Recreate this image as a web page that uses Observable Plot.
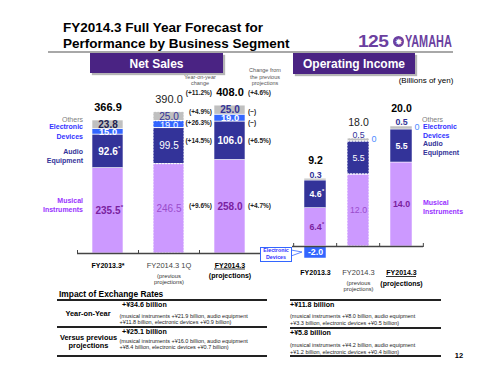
<!DOCTYPE html>
<html><head><meta charset="utf-8">
<script src="https://cdn.jsdelivr.net/npm/d3@7"></script>
<script src="https://cdn.jsdelivr.net/npm/@observablehq/plot@0.6"></script>
<style>
html,body{margin:0;padding:0;background:#fff;}
#page{position:relative;width:500px;height:375px;overflow:hidden;font-family:"Liberation Sans",Arial,Helvetica,sans-serif;background:#fff;}
.t{position:absolute;white-space:nowrap;line-height:1;}
.box{position:absolute;}
#page svg{position:absolute;left:0;top:0;}
</style></head>
<body><div id="page"></div>
<script>
// ---------------- DATA ----------------
const segs = ["Musical Instruments", "Audio Equipment", "Electronic Devices", "Others"];

const nsCats = ["FY2013.3", "FY2014.3 1Q", "FY2014.3"];
const nsCatLabels = ["FY2013.3*", "FY2014.3 1Q", "FY2014.3"];
const nsCatNotes = ["", "(previous\nprojections)", "(projections)"];
const nsMusical = [235.5, 246.5, 258.0];
const nsAudio = [92.6, 99.5, 106.0];
const nsElectronic = [15.0, 19.0, 19.0];
const nsOthers = [23.8, 25.0, 25.0];
const nsTotals = [366.9, 390.0, 408.0];
const nsStarred = [[true, false, false], [true, false, false], [false, false, false], [false, false, false]];
// order: total, musical, audio, electronic, others
const nsYoY = ["(+11.2%)", "(+9.6%)", "(+14.5%)", "(+26.3%)", "(+4.9%)"];
const nsVsPrev = ["(+4.6%)", "(+4.7%)", "(+6.5%)", "(\u2212)", "(\u2212)"];

const oiCats = ["FY2013.3", "FY2014.3 prev", "FY2014.3 proj"];
const oiCatLabels = ["FY2013.3", "FY2014.3", "FY2014.3"];
const oiCatNotes = ["", "(previous\nprojections)", "(projections)"];
const oiMusical = [6.4, 12.0, 14.0];
const oiAudio = [4.6, 5.5, 5.5];
const oiElectronic = [-2.0, 0, 0];
const oiOthers = [0.3, 0.5, 0.5];
const oiTotals = [9.2, 18.0, 20.0];
const oiStarred = [[true, false, false], [true, false, false], [false, false, false], [false, false, false]];

const fxHeads = ["+\u00a534.6 billion", "+\u00a525.1 billion", "+\u00a511.8 billion", "+\u00a55.8 billion"];
const fxDetails = [
  ["(musical instruments +\u00a521.9 billion, audio equipment", "+\u00a511.8 billion, electronic devices +\u00a50.9 billion)"],
  ["(musical instruments +\u00a516.0 billion, audio equipment", "+\u00a58.4 billion, electronic devices +\u00a50.7 billion)"],
  ["(musical instruments +\u00a58.0 billion, audio equipment", "+\u00a53.3 billion, electronic devices +\u00a50.5 billion)"],
  ["(musical instruments +\u00a54.2 billion, audio equipment", "+\u00a51.2 billion, electronic devices +\u00a50.4 billion)"]
];

// ---------------- STYLE ----------------
const FONT = '"Liberation Sans", Arial, Helvetica, sans-serif';
const segColor = {"Musical Instruments": "#cc99ff", "Audio Equipment": "#333399", "Electronic Devices": "#3366ff", "Others": "#c0c0c0"};
const PREV = 1, PROJ = 2;
const page = document.getElementById("page");

function T(x, y, txt, o = {}) {
  const d = document.createElement("div");
  d.className = "t";
  d.textContent = txt;
  Object.assign(d.style, {left: x + "px", top: y + "px", fontSize: (o.size || 7) + "px",
    fontWeight: o.bold ? "bold" : "normal", color: o.color || "#000"});
  const tx = o.anchor === "middle" ? "-50%" : o.anchor === "end" ? "-100%" : "0";
  d.style.transform = `translate(${tx},-50%)`;
  if (o.css) Object.assign(d.style, o.css);
  page.appendChild(d);
  return d;
}
function B(x, y, w, h, css) {
  const d = document.createElement("div");
  d.className = "box";
  Object.assign(d.style, {left: x + "px", top: y + "px", width: w + "px", height: h + "px"}, css);
  page.appendChild(d);
  return d;
}

function build(cats, series, starred) {
  const out = [];
  cats.forEach((c, i) => series.forEach((arr, j) =>
    out.push({cat: c, i, seg: segs[j], value: arr[i], star: starred[j][i]})));
  return out;
}
const fmt = d => d.value.toFixed(1);
// approximate half-width of a bold numeric label (for placing the small asterisk)
const halfW = (s, size) => [...s].reduce((w, ch) => w + (ch === "." ? 0.278 : 0.556), 0) * size / 2;

// ---------------- STATIC TEXT ----------------
T(63, 28, "FY2014.3 Full Year Forecast for", {size: 13.5, bold: true});
T(63, 44, "Performance by Business Segment", {size: 13.5, bold: true});
B(48, 51, 405, 1.5, {background: "#a8a8a8"});
// logo
T(358, 42, "125", {size: 16, bold: true, color: "#6b3fa0", css: {transform: "translate(0,-50%) scaleX(1.2)", transformOrigin: "0 50%", letterSpacing: "-0.5px"}});
B(393, 36, 11, 11, {background: "#6b3fa0", borderRadius: "50%"});
T(398.5, 41.5, "\u2738", {size: 9, color: "#fff", anchor: "middle"});
T(405, 42, "YAMAHA", {size: 16, bold: true, color: "#6b3fa0", css: {transform: "translate(0,-50%) scaleX(0.68)", transformOrigin: "0 50%"}});

// section headers
B(90, 53, 133, 20, {background: "#4a2383", boxShadow: "2px 2px 1px #b5b5b5"});
T(156.5, 63.5, "Net Sales", {size: 12, bold: true, color: "#fff", anchor: "middle"});
B(293, 53, 122, 21, {background: "#4a2383", boxShadow: "2px 2px 1px #b5b5b5"});
T(354, 64, "Operating Income", {size: 12, bold: true, color: "#fff", anchor: "middle"});
T(426, 81, "(Billions of yen)", {size: 8, anchor: "middle"});

// column headers
T(200, 78, "Year-on-year", {size: 5.5, color: "#555", anchor: "middle"});
T(200, 84, "change", {size: 5.5, color: "#555", anchor: "middle"});
T(265, 71, "Change from", {size: 5.5, color: "#555", anchor: "middle"});
T(265, 77.5, "the previous", {size: 5.5, color: "#555", anchor: "middle"});
T(265, 84, "projections", {size: 5.5, color: "#555", anchor: "middle"});

// segment labels, net sales (left)
T(83, 119, "Others", {size: 7, color: "#808080", anchor: "end"});
T(83, 126, "Electronic", {size: 7, bold: true, color: "#3333ff", anchor: "end"});
T(83, 136, "Devices", {size: 7, bold: true, color: "#3333ff", anchor: "end"});
T(83, 151, "Audio", {size: 7, bold: true, color: "#333399", anchor: "end"});
T(83, 159.5, "Equipment", {size: 7, bold: true, color: "#333399", anchor: "end"});
T(83, 200, "Musical", {size: 7, bold: true, color: "#9933ff", anchor: "end"});
T(83, 209, "Instruments", {size: 7, bold: true, color: "#9933ff", anchor: "end"});
// segment labels, operating income (right)
T(422, 119, "Others", {size: 7, color: "#808080"});
T(423, 125.7, "Electronic", {size: 7, bold: true, color: "#3333ff"});
T(423, 134.7, "Devices", {size: 7, bold: true, color: "#3333ff"});
T(423, 143.3, "Audio", {size: 7, bold: true, color: "#333399"});
T(423, 152.3, "Equipment", {size: 7, bold: true, color: "#333399"});
T(423, 201.7, "Musical", {size: 7, bold: true, color: "#9933ff"});
T(423, 211, "Instruments", {size: 7, bold: true, color: "#9933ff"});

// exchange-rate table
T(59, 293.5, "Impact of Exchange Rates", {size: 8.4, bold: true});
B(57, 299, 210, 2, {background: "#222"});
B(57, 326, 210, 1.5, {background: "#222"});
B(57, 354.5, 210, 2, {background: "#222"});
B(290, 299, 151, 2, {background: "#222"});
B(290, 327, 151, 1.5, {background: "#222"});
B(290, 354.5, 151, 2, {background: "#222"});
T(88, 314.3, "Year-on-Year", {size: 7.4, bold: true, anchor: "middle"});
T(88.5, 337.7, "Versus previous", {size: 7.4, bold: true, anchor: "middle"});
T(88.5, 345.7, "projections", {size: 7.4, bold: true, anchor: "middle"});
const fxPos = [[122, 305.7, 119.5, 316.7], [122, 333.3, 119.5, 341.7], [290, 305.7, 290, 317.3], [290, 333.7, 290, 346.3]];
fxHeads.forEach((h, k) => {
  const [hx, hy, dx0, dy0] = fxPos[k];
  T(hx, hy, h, {size: 7.1, bold: true});
  T(dx0, dy0, fxDetails[k][0], {size: 5.5, color: "#222"});
  T(dx0, dy0 + 6.3, fxDetails[k][1], {size: 5.5, color: "#222"});
});
T(459, 356, "12", {size: 7.5, bold: true, anchor: "middle"});

// ---------------- NET SALES CHART ----------------
const nsData = build(nsCats, [nsMusical, nsAudio, nsElectronic, nsOthers], nsStarred);
const nsTot = nsCats.map((c, i) => ({cat: c, i, total: nsTotals[i]}));
const nsCatData = nsCats.map((c, i) => ({cat: c, i, label: nsCatLabels[i], note: nsCatNotes[i]}));
const nsY0 = 253, nsK = 0.3625, nsYmax = 500;
const nsL = 77, nsR = 260, nsStep = (nsR - nsL) / nsCats.length;
const nsFill = d => d.seg === "Musical Instruments" ? (d.i === PREV ? "#9a4ccc" : "#7a1fa0")
  : d.seg === "Others" ? (d.i === 0 ? "#222250" : "#333399") : "#ffffff";
const NS_FS = 10;
const nsSize = d => d.seg === "Electronic Devices" ? 9.3 : NS_FS;

const last = nsCats.length - 1;
let acc = 0;
const mids = [nsMusical, nsAudio, nsElectronic, nsOthers].map(a => { const m = acc + a[last] / 2; acc += a[last]; return m; });
const changeRows = [
  {y: nsTotals[last], dy: -13, yoy: nsYoY[0], prev: nsVsPrev[0]},
  {y: mids[0], dy: -1, yoy: nsYoY[1], prev: nsVsPrev[1]},
  {y: mids[1], dy: 0.5, yoy: nsYoY[2], prev: nsVsPrev[2]},
  {y: mids[2], dy: 4.5, yoy: nsYoY[3], prev: nsVsPrev[3]},
  {y: mids[3], dy: 1.5, yoy: nsYoY[4], prev: nsVsPrev[4]}
];

const starMarks = (data, size, fill) => data.filter(d => d.star).map(t =>
  Plot.text(data, Plot.stackY({x: "cat", y: "value", text: d => d === t ? "*" : null,
    dx: halfW(fmt(t), size) + 0.3, dy: -size * 0.38, textAnchor: "start", fontSize: size * 0.62,
    fontWeight: "bold", fill})));

const nsPlot = Plot.plot({
  width: 500, height: 375,
  marginLeft: nsL, marginRight: 500 - nsR, marginBottom: 375 - nsY0, marginTop: nsY0 - nsK * nsYmax,
  x: {domain: nsCats, paddingInner: 0.5, paddingOuter: 0.25, axis: null},
  y: {domain: [0, nsYmax], axis: null},
  color: {type: "identity"},
  style: {background: "transparent", overflow: "visible", fontFamily: FONT},
  marks: [
    Plot.barY(nsData, {x: "cat", y: "value", fill: d => segColor[d.seg], stroke: "#fff", strokeWidth: 0.6}),
    Plot.barY(nsData, {filter: d => d.i === PREV, x: "cat", y: "value", fill: "none", stroke: "#ffffff", strokeWidth: 1, strokeDasharray: "1.5 1.5", strokeOpacity: 0.9}),
    Plot.ruleY([0], {stroke: "#444", strokeWidth: 1.3}),
    Plot.ruleX(nsCats, {x: d => d, dx: -nsStep / 2, y1: 0, y2: 0, insetTop: -3, insetBottom: -1, stroke: "#444"}),
    Plot.ruleX([nsCats[last]], {x: d => d, dx: nsStep / 2, y1: 0, y2: 0, insetTop: -3, insetBottom: -1, stroke: "#444"}),
    Plot.text(nsData, Plot.stackY({x: "cat", y: "value", text: d => d.i !== PREV && d.seg !== "Electronic Devices" ? fmt(d) : null, fill: nsFill, fontSize: NS_FS, fontWeight: "bold"})),
    Plot.text(nsData, Plot.stackY({x: "cat", y: "value", text: d => d.i !== PREV && d.seg === "Electronic Devices" ? fmt(d) : null, fill: nsFill, fontSize: 9.3, fontWeight: "bold"})),
    Plot.text(nsData, Plot.stackY({x: "cat", y: "value", text: d => d.i === PREV && d.seg !== "Electronic Devices" ? fmt(d) : null, fill: nsFill, fontSize: NS_FS, fontWeight: "normal"})),
    Plot.text(nsData, Plot.stackY({x: "cat", y: "value", text: d => d.i === PREV && d.seg === "Electronic Devices" ? fmt(d) : null, fill: nsFill, fontSize: 9.3, fontWeight: "normal"})),
    ...starMarks(nsData, NS_FS, "#ffffff").slice(0, 0),
    ...nsData.filter(d => d.star).map(t =>
      Plot.text(nsData, Plot.stackY({x: "cat", y: "value", text: d => d === t ? "*" : null,
        dx: halfW(fmt(t), NS_FS) + 0.3, dy: -NS_FS * 0.38, textAnchor: "start", fontSize: 6.2,
        fontWeight: "bold", fill: nsFill(t)}))),
    Plot.text(nsTot, {filter: d => d.i !== PREV, x: "cat", y: "total", text: d => d.total.toFixed(1), dy: -13, fontSize: 11, fontWeight: "bold", fill: "#000"}),
    Plot.text(nsTot, {filter: d => d.i === PREV, x: "cat", y: "total", text: d => d.total.toFixed(1), dy: -13, fontSize: 11, fill: "#222"}),
    Plot.text(nsCatData, {filter: d => d.i !== PREV, x: "cat", y: 0, dy: 12, text: "label", fontSize: 7, fontWeight: "bold", fill: "#000"}),
    Plot.text(nsCatData, {filter: d => d.i === PREV, x: "cat", y: 0, dy: 12, text: "label", fontSize: 7.5, fill: "#444"}),
    Plot.text(nsCatData, {filter: d => d.i === PREV, x: "cat", y: 0, dy: 25.3, text: "note", fontSize: 5.8, lineHeight: 1.15, fill: "#333"}),
    Plot.text(nsCatData, {filter: d => d.i === PROJ, x: "cat", y: 0, dy: 22.7, text: "note", fontSize: 7, fontWeight: "bold", fill: "#000"}),
    Plot.tickY(nsCatData, {filter: d => d.i === PROJ, x: "cat", y: 0, dy: 15.5, stroke: "#000", strokeWidth: 0.8}),
    ...changeRows.flatMap(r => [
      Plot.text([r], {x: () => nsCats[last], y: "y", dy: r.dy, dx: -18, textAnchor: "end", text: "yoy", fontSize: 6.5, fontWeight: "bold", fill: "#222"}),
      Plot.text([r], {x: () => nsCats[last], y: "y", dy: r.dy, dx: 18, textAnchor: "start", text: "prev", fontSize: 6.5, fontWeight: "bold", fill: "#222"})
    ])
  ]
});
page.appendChild(nsPlot);

// ---------------- OPERATING INCOME CHART ----------------
const oiData = build(oiCats, [oiMusical, oiAudio, oiElectronic, oiOthers], oiStarred);
const oiTot = oiCats.map((c, i) => ({cat: c, i, total: oiTotals[i],
  top: oiMusical[i] + oiAudio[i] + Math.max(0, oiElectronic[i]) + oiOthers[i]}));
const oiCatData = oiCats.map((c, i) => ({cat: c, i, label: oiCatLabels[i], note: oiCatNotes[i]}));
const oiY0 = 246, oiK = 6, oiYmax = 30;
const oiL = 292, oiR = 423, oiStep = (oiR - oiL) / oiCats.length;
const oiFill = d => d.seg === "Musical Instruments" ? (d.i === PREV ? "#9a4ccc" : "#7a1fa0") : "#ffffff";
const inner = d => d.seg === "Musical Instruments" || d.seg === "Audio Equipment" || (d.seg === "Electronic Devices" && d.value < 0);
const OI_FS = 8.8;

const oiPlot = Plot.plot({
  width: 500, height: 375,
  marginLeft: oiL, marginRight: 500 - oiR, marginBottom: 375 - oiY0, marginTop: oiY0 - oiK * oiYmax,
  x: {domain: oiCats, paddingInner: 0.5, paddingOuter: 0.25, axis: null},
  y: {domain: [0, oiYmax], axis: null},
  color: {type: "identity"},
  style: {background: "transparent", overflow: "visible", fontFamily: FONT},
  marks: [
    Plot.barY(oiData, {x: "cat", y: "value", fill: d => segColor[d.seg], stroke: "#fff", strokeWidth: 0.5}),
    Plot.barY(oiData, {filter: d => d.i === PREV, x: "cat", y: "value", fill: "none", stroke: "#ffffff", strokeWidth: 1, strokeDasharray: "1.5 1.5", strokeOpacity: 0.9}),
    Plot.ruleY([0], {stroke: "#444", strokeWidth: 1.3}),
    Plot.ruleX(oiCats, {x: d => d, dx: -oiStep / 2, y1: 0, y2: 0, insetTop: -3, insetBottom: -1, stroke: "#444"}),
    Plot.ruleX([oiCats[last]], {x: d => d, dx: oiStep / 2, y1: 0, y2: 0, insetTop: -3, insetBottom: -1, stroke: "#444"}),
    Plot.text(oiData, Plot.stackY({x: "cat", y: "value", text: d => inner(d) && d.i !== PREV ? fmt(d) : null, fill: oiFill, fontSize: OI_FS, fontWeight: "bold"})),
    Plot.text(oiData, Plot.stackY({x: "cat", y: "value", text: d => inner(d) && d.i === PREV ? fmt(d) : null, fill: oiFill, fontSize: OI_FS, fontWeight: "normal"})),
    ...oiData.filter(d => d.star).map(t =>
      Plot.text(oiData, Plot.stackY({x: "cat", y: "value", text: d => d === t ? "*" : null,
        dx: halfW(fmt(t), OI_FS) + 0.3, dy: -OI_FS * 0.38, textAnchor: "start", fontSize: 5.6,
        fontWeight: "bold", fill: oiFill(t)}))),
    Plot.text(oiData, Plot.stackY2({x: "cat", y: "value", text: d => d.seg === "Others" && d.i !== PREV ? fmt(d) : null, dy: -4, fill: "#333399", fontSize: OI_FS, fontWeight: "bold"})),
    Plot.text(oiData, Plot.stackY2({x: "cat", y: "value", text: d => d.seg === "Others" && d.i === PREV ? fmt(d) : null, dy: -3, fill: "#333399", fontSize: OI_FS})),
    Plot.text(oiData, Plot.stackY2({x: "cat", y: "value", text: d => d.seg === "Electronic Devices" && d.value === 0 ? "0" : null, dx: 15.5, dy: -2, fill: "#4d8cff", fontSize: 9})),
    Plot.text(oiTot, {filter: d => d.i !== PREV, x: "cat", y: "top", text: d => d.total.toFixed(1), dy: -18, fontSize: 10.5, fontWeight: "bold", fill: "#000"}),
    Plot.text(oiTot, {filter: d => d.i === PREV, x: "cat", y: "top", text: d => d.total.toFixed(1), dy: -16, fontSize: 10.5, fill: "#222"}),
    Plot.text(oiCatData, {filter: d => d.i !== PREV, x: "cat", y: 0, dy: 26, text: "label", fontSize: 7, fontWeight: "bold", fill: "#000"}),
    Plot.text(oiCatData, {filter: d => d.i === PREV, x: "cat", y: 0, dy: 26, text: "label", fontSize: 7.5, fill: "#444"}),
    Plot.text(oiCatData, {filter: d => d.i === PREV, x: "cat", y: 0, dy: 39.5, text: "note", fontSize: 5.8, lineHeight: 1.15, fill: "#333"}),
    Plot.text(oiCatData, {filter: d => d.i === PROJ, x: "cat", y: 0, dy: 37.5, text: "note", fontSize: 7, fontWeight: "bold", fill: "#000"}),
    Plot.tickY(oiCatData, {filter: d => d.i === PROJ, x: "cat", y: 0, dy: 30, insetLeft: -4, insetRight: -4, stroke: "#000", strokeWidth: 0.8})
  ]
});
page.appendChild(oiPlot);

// callout for the negative electronic devices bar
const svgNS = "http://www.w3.org/2000/svg";
const tail = document.createElementNS(svgNS, "svg");
tail.setAttribute("width", 500); tail.setAttribute("height", 375);
tail.style.cssText = "position:absolute;left:0;top:0;pointer-events:none";
tail.innerHTML = '<polygon points="291,250 302,252 291,256" fill="#fff" stroke="#3366ff" stroke-width="0.8"/>';
page.appendChild(tail);
B(260, 247, 32, 15, {background: "#fff", border: "0.8px solid #3366ff", boxSizing: "border-box"});
T(276, 251, "Electronic", {size: 5.3, bold: true, color: "#3333ff", anchor: "middle"});
T(276, 257.5, "Devices", {size: 5.3, bold: true, color: "#3333ff", anchor: "middle"});
</script>
</body></html>
